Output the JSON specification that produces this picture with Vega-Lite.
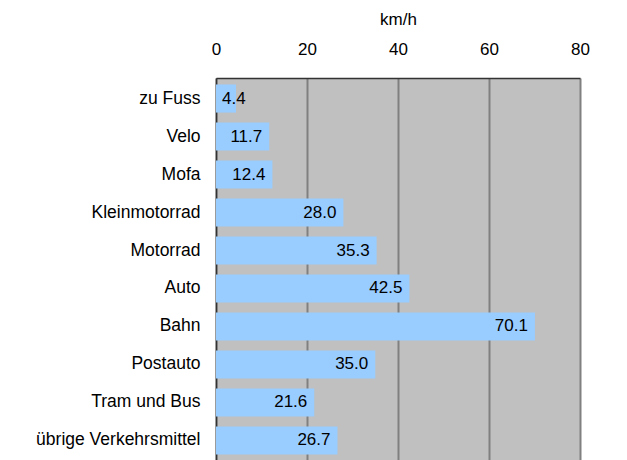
{
  "$schema": "https://vega.github.io/schema/vega-lite/v6.json",
  "autosize": {"type": "none"},
  "padding": {"left": 216, "top": 78, "right": 47, "bottom": 0},
  "width": 364,
  "height": 383,
  "background": "white",
  "config": {
    "view": {"fill": "#C0C0C0", "stroke": null},
    "font": "Liberation Sans"
  },
  "data": {
    "values": [
      {"mode": "zu Fuss", "kmh": 4.4},
      {"mode": "Velo", "kmh": 11.7},
      {"mode": "Mofa", "kmh": 12.4},
      {"mode": "Kleinmotorrad", "kmh": 28.0},
      {"mode": "Motorrad", "kmh": 35.3},
      {"mode": "Auto", "kmh": 42.5},
      {"mode": "Bahn", "kmh": 70.1},
      {"mode": "Postauto", "kmh": 35.0},
      {"mode": "Tram und Bus", "kmh": 21.6},
      {"mode": "übrige Verkehrsmittel", "kmh": 26.7}
    ]
  },
  "encoding": {
    "y": {
      "field": "mode",
      "type": "nominal",
      "sort": null,
      "title": null,
      "scale": {"paddingInner": 0.26, "paddingOuter": 0.17},
      "axis": {
        "labelFontSize": 17.5,
        "labelColor": "#000000",
        "labelPadding": 16,
        "ticks": false,
        "domainColor": "#333333",
        "domainWidth": 1.5,
        "labelFont": "Liberation Sans",
        "labelLimit": 300
      }
    },
    "x": {
      "field": "kmh",
      "type": "quantitative",
      "scale": {"domain": [0, 80]},
      "axis": {
        "orient": "top",
        "values": [0, 20, 40, 60, 80],
        "title": "km/h",
        "titleFontSize": 17,
        "titleFontWeight": "normal",
        "titleColor": "#000000",
        "titlePadding": 12,
        "labelFontSize": 17,
        "labelColor": "#000000",
        "labelPadding": 20,
        "ticks": false,
        "grid": true,
        "gridColor": "#808080",
        "gridWidth": 2,
        "domainColor": "#333333",
        "domainWidth": 1.5,
        "labelFlush": false
      }
    }
  },
  "layer": [
    {"mark": {"type": "bar", "color": "#99CCFF"}},
    {
      "transform": [{"filter": "datum.kmh >= 10"}],
      "mark": {"type": "text", "align": "right", "baseline": "middle", "dx": -7, "fontSize": 17, "color": "#000000"},
      "encoding": {"text": {"field": "kmh", "type": "quantitative", "format": ".1f"}}
    },
    {
      "transform": [{"filter": "datum.kmh < 10"}],
      "mark": {"type": "text", "align": "left", "baseline": "middle", "dx": 6, "fontSize": 17, "color": "#000000"},
      "encoding": {
        "x": {"datum": 0, "type": "quantitative"},
        "text": {"field": "kmh", "type": "quantitative", "format": ".1f"}
      }
    }
  ]
}
